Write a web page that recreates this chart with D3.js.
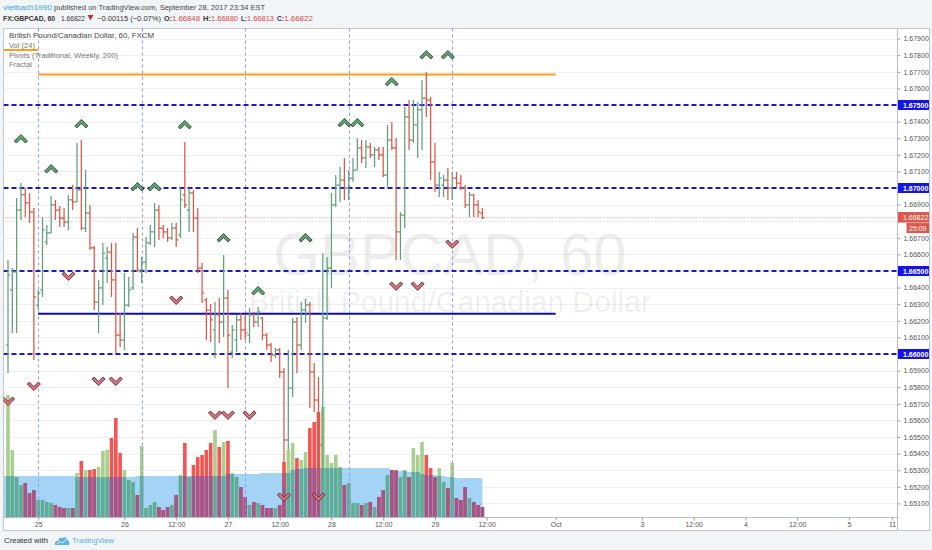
<!DOCTYPE html>
<html><head><meta charset="utf-8">
<script src="https://cdn.jsdelivr.net/npm/d3@7"></script>
<style>body{margin:0;background:#f2f5f8;} svg{display:block;}</style>
</head><body>
<svg id="c" width="932" height="550"></svg>
<script>
// ---------------- DATA ----------------
const open = [
1.66054,1.66386,1.66494,1.66867,1.66958,1.66910,1.66855,1.66295,1.66386,1.66675,
1.66729,1.66898,1.66867,1.66819,1.66795,1.66928,1.66916,1.66988,1.66759,1.66849,
1.66639,1.66313,1.66398,1.66578,1.66614,1.66446,1.66114,1.66084,1.66295,1.66398,
1.66705,1.66494,1.66554,1.66669,1.66735,1.66867,1.66759,1.66735,1.66699,1.66759,
1.66717,1.66958,1.66867,1.66970,1.66819,1.66518,1.66325,1.66265,1.66145,1.66235,
1.66193,1.66337,1.66012,1.66084,1.66205,1.66145,1.66114,1.66235,1.66193,1.66217,
1.66114,1.66054,1.65994,1.66024,1.65892,1.65482,1.65795,1.66193,1.66054,1.66265,
1.66295,1.65892,1.65723,1.65452,1.66217,1.66518,1.66898,1.67018,1.67048,1.67000,
1.67060,1.67108,1.67241,1.67181,1.67247,1.67199,1.67229,1.67199,1.67078,1.67289,
1.67241,1.66735,1.66837,1.67428,1.67289,1.67380,1.67470,1.67542,1.67530,1.67157,
1.67018,1.67018,1.67048,1.67000,1.67060,1.67030,1.67000,1.66898,1.66958,1.66898,
1.66848];
const high = [
1.66566,1.66518,1.66940,1.67030,1.67000,1.66970,1.66880,1.66386,1.66825,1.66777,
1.66952,1.66928,1.66892,1.66880,1.66958,1.67018,1.67271,1.67289,1.67108,1.66898,
1.66650,1.66446,1.66669,1.66645,1.66669,1.66669,1.66247,1.66488,1.66464,1.66729,
1.66759,1.66584,1.66705,1.66777,1.66910,1.66898,1.66777,1.66759,1.66789,1.66789,
1.67000,1.67277,1.67000,1.66988,1.66880,1.66548,1.66337,1.66301,1.66313,1.66337,
1.66596,1.66386,1.66175,1.66235,1.66247,1.66235,1.66277,1.66253,1.66283,1.66223,
1.66127,1.66066,1.66036,1.66036,1.65916,1.66024,1.66217,1.66223,1.66313,1.66331,
1.66313,1.65946,1.65861,1.66608,1.66584,1.66970,1.67078,1.67127,1.67181,1.67108,
1.67181,1.67301,1.67289,1.67289,1.67271,1.67247,1.67247,1.67247,1.67380,1.67398,
1.67301,1.66855,1.67488,1.67530,1.67530,1.67518,1.67651,1.67699,1.67548,1.67271,
1.67096,1.67078,1.67120,1.67096,1.67096,1.67078,1.67018,1.66976,1.66965,1.66928,
1.66880];
const low = [
1.65886,1.66127,1.66127,1.66807,1.66825,1.66789,1.65964,1.66265,1.66343,1.66657,
1.66729,1.66807,1.66765,1.66765,1.66747,1.66867,1.66916,1.66747,1.66735,1.66627,
1.66265,1.66127,1.66295,1.66428,1.66343,1.66006,1.66042,1.66024,1.66283,1.66386,
1.66494,1.66428,1.66488,1.66657,1.66645,1.66687,1.66699,1.66675,1.66687,1.66645,
1.66699,1.66880,1.66735,1.66735,1.66488,1.66307,1.66084,1.66072,1.65976,1.66066,
1.66102,1.65795,1.65976,1.66012,1.66084,1.66084,1.66066,1.66163,1.66163,1.66084,
1.66024,1.65952,1.65976,1.65855,1.65193,1.65422,1.65741,1.65886,1.66024,1.66187,
1.65675,1.65651,1.65181,1.65253,1.66205,1.66398,1.66886,1.66916,1.66928,1.66928,
1.67036,1.67108,1.67151,1.67120,1.67181,1.67127,1.67169,1.67066,1.67006,1.67229,
1.66566,1.66566,1.66759,1.67229,1.67271,1.67181,1.67229,1.67428,1.67048,1.66976,
1.66946,1.66946,1.66928,1.66928,1.67000,1.66988,1.66880,1.66825,1.66825,1.66825,
1.66813];
const close = [
1.66476,1.66494,1.66867,1.66958,1.66910,1.66855,1.66343,1.66367,1.66747,1.66729,
1.66898,1.66867,1.66819,1.66795,1.66928,1.66916,1.66988,1.66759,1.66849,1.66639,
1.66313,1.66398,1.66608,1.66614,1.66446,1.66114,1.66084,1.66295,1.66386,1.66705,
1.66506,1.66554,1.66669,1.66735,1.66867,1.66759,1.66735,1.66699,1.66759,1.66687,
1.66928,1.66898,1.66970,1.66819,1.66518,1.66367,1.66265,1.66205,1.66235,1.66193,
1.66337,1.66114,1.66145,1.66205,1.66145,1.66127,1.66235,1.66193,1.66253,1.66114,
1.66054,1.65994,1.66024,1.65892,1.65482,1.65795,1.66193,1.66054,1.66265,1.66295,
1.65892,1.65723,1.65452,1.66217,1.66518,1.66898,1.67018,1.67048,1.67000,1.67060,
1.67108,1.67241,1.67181,1.67247,1.67199,1.67229,1.67199,1.67078,1.67289,1.67241,
1.66735,1.66837,1.67428,1.67289,1.67380,1.67470,1.67542,1.67530,1.67157,1.67018,
1.67060,1.67048,1.67000,1.67060,1.67030,1.67000,1.66898,1.66958,1.66898,1.66855,
1.66822];
const volume = [
122,67,40,32,34,24,27,17,17,15,
14,12,10,9,9,9,44,56,47,47,
48,50,66,67,79,99,64,47,37,35,
22,71,9,12,15,10,7,10,12,22,
42,74,40,52,60,62,67,74,87,70,
75,76,44,40,30,20,12,15,14,12,
9,9,9,12,55,67,74,59,57,65,
89,95,105,110,62,54,62,50,32,34,
14,14,12,14,15,10,20,27,42,47,
47,40,47,40,69,62,75,62,49,40,
49,35,29,54,19,17,30,19,15,12,
10];
const volumeMA = [
41,41,41,41,41,41,41,41,41,41,
41,41,41,41,41,41,40,40,40,40,
40,40,40,40,40,40,40,40,40,40,
41,41,41,41,41,41,41,41,41,41,
41,41,41,41,41,41,41,41,41,41,
41,43,43,43,43,43,43,43,43,44,
44,44,44,44,44,44,47,48,48,49,
49,49,49,49,49,49,49,49,49,49,
49,49,49,49,49,49,49,49,49,47,
46,46,46,45,45,45,43,42,42,42,
41,41,40,40,39,39,39,39,39,39,
39];

const timeTickPos    = [7, 27, 39, 51, 63, 75, 87, 99, 111, 127, 147, 159, 171, 183, 195, 205];
const timeTickLabels = ["25","26","12:00","27","12:00","28","12:00","29","12:00","Oct","3","12:00","4","12:00","5","11"];
const sessionBreaks  = [7, 31, 55, 79, 103];

const priceTicks = [1.651,1.652,1.653,1.654,1.655,1.656,1.657,1.658,1.659,1.660,1.661,1.662,1.663,1.664,
                    1.665,1.666,1.667,1.668,1.669,1.670,1.671,1.672,1.673,1.674,1.675,1.676,1.677,1.678,1.679];
const levelPrices = [1.675, 1.670, 1.665, 1.660];      // dashed horizontal lines
const pivotPrices = [1.67831, 1.67684, 1.66243];       // weekly pivots
const pivotFrom   = [-2, 7, 7];
const pivotTo     = [7, 127, 127];
const lastPrice = 1.66822;
const countdown = "25:09";

const fractalUpIdx    = [3, 10, 17, 30, 34, 41, 50, 58, 69, 78, 81, 89, 97, 102];
const fractalUpPrice  = [1.67301,1.67120,1.67392,1.67012,1.67012,1.67386,1.66705,1.66386,1.66705,1.67398,1.67398,1.67645,1.67807,1.67807];
const fractalDnIdx    = [0, 6, 14, 21, 25, 39, 48, 51, 56, 64, 72, 90, 95, 103];
const fractalDnPrice  = [1.65711,1.65801,1.66464,1.65831,1.65831,1.66319,1.65627,1.65627,1.65627,1.65133,1.65133,1.66404,1.66404,1.66657];

// ---------------- LAYOUT ----------------
const FONT = "'Liberation Sans', Arial, Helvetica, sans-serif";
const PL = 3.5, PR = 897.5, PT = 28.5, PB = 517.5;
const svg = d3.select("#c");

const x = d3.scaleLinear().domain([0, 206]).range([8, 8 + 206 * 4.3125]);
const y = d3.scaleLinear().domain([1.65, 1.68]).range([188 + 0.020 * 16600, 188 - 0.010 * 16600]);
const yv = d3.scaleLinear().domain([0, 100]).range([517, 417]);

// chart frame
svg.append("rect").attr("x", 3.5).attr("y", 28.5).attr("width", 926).attr("height", 502)
  .attr("fill", "#fff").attr("stroke", "#c3c7cc");

const defs = svg.append("defs");
defs.append("clipPath").attr("id", "plot").append("rect")
  .attr("x", PL).attr("y", PT).attr("width", PR - PL).attr("height", PB - PT);
const plot = svg.append("g").attr("clip-path", "url(#plot)");

// grid
plot.selectAll(".grid").data(priceTicks).join("line")
  .attr("x1", PL).attr("x2", PR)
  .attr("y1", d => Math.round(y(d)) + 0.5).attr("y2", d => Math.round(y(d)) + 0.5)
  .attr("stroke", "#eef0f3");

// watermark
plot.append("text").attr("x", 450).attr("y", 275).attr("text-anchor", "middle")
  .attr("font-family", FONT).attr("font-size", 60).attr("fill", "#000").attr("fill-opacity", 0.07)
  .text("GBPCAD, 60");
plot.append("text").attr("x", 450).attr("y", 312).attr("text-anchor", "middle")
  .attr("font-family", FONT).attr("font-size", 30).attr("fill", "#000").attr("fill-opacity", 0.07)
  .text("British Pound/Canadian Dollar");

// volume MA area
const idx = d3.range(open.length);
const bw = 3.6;
const maArea = d3.area()
  .x(d => x(d)).y0(yv(0)).y1(d => yv(volumeMA[d])).curve(d3.curveStep);
plot.append("rect").attr("x", PL).attr("width", x(0) - PL).attr("y", yv(volumeMA[0]))
  .attr("height", yv(0) - yv(volumeMA[0])).attr("fill", "#a3d4f6");
plot.append("path").datum(idx).attr("d", maArea).attr("fill", "#a3d4f6");

// volume bars
const up = i => close[i] >= open[i];
plot.selectAll(".vol").data(idx).join("rect")
  .attr("x", i => x(i) - bw / 2).attr("width", bw)
  .attr("y", i => yv(volume[i])).attr("height", i => yv(0) - yv(volume[i]))
  .attr("fill", i => up(i) ? "#a8ce90" : "#f45454");
plot.selectAll(".volb").data(idx).join("rect")
  .attr("x", i => x(i) - bw / 2).attr("width", bw)
  .attr("y", i => yv(Math.min(volume[i], volumeMA[i])))
  .attr("height", i => yv(0) - yv(Math.min(volume[i], volumeMA[i])))
  .attr("fill", i => up(i) ? "#5dac9c" : "#a3568a");

// session breaks
plot.selectAll(".sess").data(sessionBreaks).join("line")
  .attr("x1", d => Math.round(x(d)) + 0.5).attr("x2", d => Math.round(x(d)) + 0.5)
  .attr("y1", PT).attr("y2", PB)
  .attr("stroke", "#8d98ee").attr("stroke-dasharray", "3,3");

// dashed levels
plot.selectAll(".lvl").data(levelPrices).join("line")
  .attr("x1", PL).attr("x2", PR).attr("y1", d => y(d)).attr("y2", d => y(d))
  .attr("stroke", "#1b1bc9").attr("stroke-width", 1.8).attr("stroke-dasharray", "5,3");

// pivots
const pivotColors = ["#ff9c1a", "#ff9c1a", "#0c0cb8"];
plot.selectAll(".piv").data(pivotPrices).join("line")
  .attr("x1", (d, i) => x(pivotFrom[i])).attr("x2", (d, i) => x(pivotTo[i]))
  .attr("y1", d => y(d)).attr("y2", d => y(d))
  .attr("stroke", (d, i) => pivotColors[i]).attr("stroke-width", 2);

// current price line
plot.append("line").attr("x1", PL).attr("x2", PR)
  .attr("y1", y(lastPrice)).attr("y2", y(lastPrice))
  .attr("stroke", "#e46a5e").attr("stroke-width", 0.8).attr("stroke-dasharray", "1,2");

// OHLC bars
const UPC = "#5f9f7c", DNC = "#e05545";
const bars = plot.selectAll(".bar").data(idx).join("g")
  .attr("stroke", i => up(i) ? UPC : DNC).attr("stroke-width", 1.25);
bars.append("line").attr("x1", i => x(i)).attr("x2", i => x(i))
  .attr("y1", i => y(high[i])).attr("y2", i => y(low[i]));
bars.append("line").attr("x1", i => x(i) - 2.2).attr("x2", i => x(i))
  .attr("y1", i => y(open[i])).attr("y2", i => y(open[i]));
bars.append("line").attr("x1", i => x(i)).attr("x2", i => x(i) + 2.2)
  .attr("y1", i => y(close[i])).attr("y2", i => y(close[i]));

// fractals
const upPath = "M-6.5,3 L0,-3.5 L6.5,3 L4.5,5 L0,0.5 L-4.5,5 Z";
const dnPath = "M-6.5,-3 L0,3.5 L6.5,-3 L4.5,-5 L0,-0.5 L-4.5,-5 Z";
plot.selectAll(".fu").data(fractalUpIdx).join("path")
  .attr("d", upPath).attr("transform", (d, i) => `translate(${x(d)},${y(fractalUpPrice[i])})`)
  .attr("fill", "#5aa66c").attr("stroke", "#2c3e31").attr("stroke-width", 0.9);
plot.selectAll(".fd").data(fractalDnIdx).join("path")
  .attr("d", dnPath).attr("transform", (d, i) => `translate(${x(d)},${y(fractalDnPrice[i])})`)
  .attr("fill", "#e5707a").attr("stroke", "#4a2a2e").attr("stroke-width", 0.9);

// borders of axes
svg.append("line").attr("x1", PR).attr("x2", PR).attr("y1", PT).attr("y2", 530.5).attr("stroke", "#b9bec4");
svg.append("line").attr("x1", PL).attr("x2", PR).attr("y1", PB).attr("y2", PB).attr("stroke", "#b9bec4");

// price axis
const hidden = levelPrices.concat([1.668]);
const yAxis = d3.axisRight(y)
  .tickValues(priceTicks.filter(t => !hidden.some(h => Math.abs(h - t) < 1e-6)))
  .tickSize(3).tickPadding(3).tickFormat(d3.format(".5f"));
const ya = svg.append("g").attr("transform", `translate(${PR},0)`).call(yAxis);
ya.select(".domain").remove();
ya.selectAll("line").attr("stroke", "#9aa0a6");
ya.selectAll("text").attr("font-family", FONT).attr("font-size", 7).attr("fill", "#555");

// level labels on axis
const lab = svg.selectAll(".lab").data(levelPrices).join("g")
  .attr("transform", d => `translate(${PR},${y(d)})`);
lab.append("rect").attr("x", 0.5).attr("y", -5).attr("width", 31).attr("height", 10).attr("fill", "#1414e6");
lab.append("text").attr("x", 5.5).attr("y", 2.6).attr("font-family", FONT).attr("font-size", 7)
  .attr("font-weight", "bold").attr("fill", "#fff").text(d => d3.format(".5f")(d));

// last price labels
const lp = svg.append("g").attr("transform", `translate(${PR},${y(lastPrice)})`);
lp.append("rect").attr("x", 0.5).attr("y", -5.5).attr("width", 31).attr("height", 10.5).attr("fill", "#e0564a");
lp.append("text").attr("x", 5.5).attr("y", 2.6).attr("font-family", FONT).attr("font-size", 7)
  .attr("fill", "#fff").text(d3.format(".5f")(lastPrice));
lp.append("rect").attr("x", 9).attr("y", 5.5).attr("width", 22.5).attr("height", 10).attr("fill", "#e0564a");
lp.append("text").attr("x", 11.5).attr("y", 13.2).attr("font-family", FONT).attr("font-size", 7)
  .attr("fill", "#fff").text(countdown);

// time axis
const xAxis = d3.axisBottom(x).tickValues(timeTickPos)
  .tickFormat((d, i) => timeTickLabels[i]).tickSize(3).tickPadding(2);
const xa = svg.append("g").attr("transform", `translate(0,${PB})`).call(xAxis);
xa.select(".domain").remove();
xa.selectAll("line").attr("stroke", "#9aa0a6");
xa.selectAll("text").attr("font-family", FONT).attr("font-size", 7).attr("fill", "#555");

// legend in chart
const legend = [
  ["British Pound/Canadian Dollar, 60, FXCM", 37.5, 145, "#444"],
  ["Vol (24)", 47.5, 26, "#777"],
  ["Pivots (Traditional, Weekly, 200)", 57.5, 109, "#777"],
  ["Fractal", 67, 23, "#777"]
];
svg.selectAll(".leg").data(legend).join("text")
  .attr("x", 9).attr("y", d => d[1]).attr("textLength", d => d[2]).attr("lengthAdjust", "spacingAndGlyphs")
  .attr("font-family", FONT).attr("font-size", 8).attr("fill", d => d[3]).text(d => d[0]);

// header
const header = [
  ["vietbach1990", 3, 10, 49, "#3ba6dc", "normal", 7.5],
  ["published on TradingView.com, September 28, 2017 23:34 EST", 54, 10, 211, "#444", "normal", 7.5],
  ["FX:GBPCAD, 60", 3, 20.5, 52, "#333", "bold", 7],
  ["1.66822", 61, 20.5, 24, "#333", "normal", 7.5],
  ["\u2212" + "0.00115 (\u22120.07%)", 97, 20.5, 64, "#333", "normal", 7.5],
  ["O:", 164, 20.5, 8, "#333", "bold", 7.5],
  ["1.66848", 172, 20.5, 28, "#d9473d", "normal", 7.5],
  ["H:", 203, 20.5, 8, "#333", "bold", 7.5],
  ["1.66880", 211, 20.5, 27, "#d9473d", "normal", 7.5],
  ["L:", 241, 20.5, 6, "#333", "bold", 7.5],
  ["1.66813", 247, 20.5, 27, "#d9473d", "normal", 7.5],
  ["C:", 277, 20.5, 7, "#333", "bold", 7.5],
  ["1.66822", 284, 20.5, 29, "#d9473d", "normal", 7.5]
];
svg.selectAll(".hdr").data(header).join("text")
  .attr("x", d => d[1]).attr("y", d => d[2]).attr("textLength", d => d[3]).attr("lengthAdjust", "spacingAndGlyphs")
  .attr("font-family", FONT).attr("font-size", d => d[6]).attr("fill", d => d[4]).attr("font-weight", d => d[5])
  .text(d => d[0]);
svg.append("path").attr("d", "M87.5,15 L93.5,15 L90.5,20.5 Z").attr("fill", "#c4312a");

// footer
svg.append("text").attr("x", 4).attr("y", 543).attr("textLength", 44).attr("lengthAdjust", "spacingAndGlyphs")
  .attr("font-family", FONT).attr("font-size", 8).attr("fill", "#333").text("Created with");
const logo = svg.append("g").attr("transform", "translate(54,535)");
logo.append("path").attr("d", "M1,10 Q0,6 4,6 Q5,2 9,3 Q12,1 13,5 Q16,5 15,10 Z").attr("fill", "#5ab3e4");
logo.append("path").attr("d", "M3,9 L6,6.5 L8.5,8 L12,4.5").attr("fill", "none").attr("stroke", "#fff").attr("stroke-width", 1);
svg.append("text").attr("x", 72).attr("y", 543).attr("textLength", 42).attr("lengthAdjust", "spacingAndGlyphs")
  .attr("font-family", FONT).attr("font-size", 8).attr("fill", "#5aaee0").text("TradingView");
</script>
</body></html>
